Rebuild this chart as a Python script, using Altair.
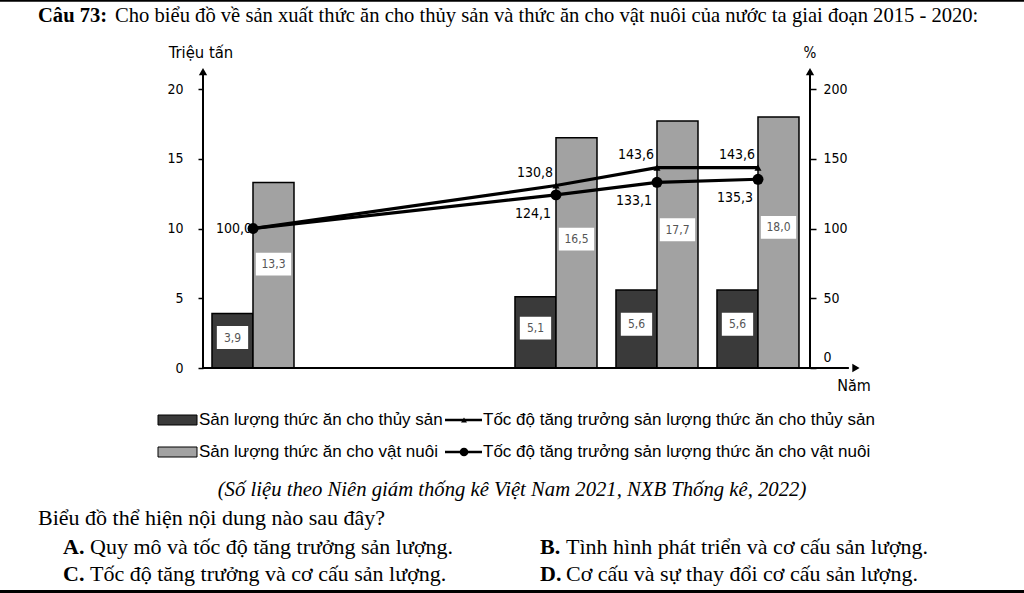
import altair as alt
import pandas as pd

# ---------------- data ----------------
years = [2015, 2018, 2019, 2020]
thuy_san = [3.9, 5.1, 5.6, 5.6]            # triệu tấn
vat_nuoi = [13.3, 16.5, 17.7, 18.0]        # triệu tấn
tang_thuy_san = [100.0, 130.8, 143.6, 143.6]  # %
tang_vat_nuoi = [100.0, 124.1, 133.1, 135.3]  # %
left_ticks = [0, 5, 10, 15, 20]
right_ticks = [0, 50, 100, 150, 200]

title_bold = "Câu 73:"
title_rest = ("Cho biểu đồ về sản xuất thức ăn cho thủy sản và thức ăn cho vật nuôi "
              "của nước ta giai đoạn 2015 - 2020:")
y_left_title = "Triệu tấn"
y_right_title = "%"
x_title = "Năm"
legend_labels = ["Sản lượng thức ăn cho thủy sản",
                 "Sản lượng thức ăn cho vật nuôi",
                 "Tốc độ tăng trưởng sản lượng thức ăn cho thủy sản",
                 "Tốc độ tăng trưởng sản lượng thức ăn cho vật nuôi"]
source_text = "(Số liệu theo Niên giám thống kê Việt Nam 2021, NXB Thống kê, 2022)"
question = "Biểu đồ thể hiện nội dung nào sau đây?"
option_keys = ["A.", "B.", "C.", "D."]
option_texts = ["Quy mô và tốc độ tăng trưởng sản lượng.",
                "Tình hình phát triển và cơ cấu sản lượng.",
                "Tốc độ tăng trưởng và cơ cấu sản lượng.",
                "Cơ cấu và sự thay đổi cơ cấu sản lượng."]

# ---------------- layout ----------------
W, H = 607, 279
PL, PT = 203, 89
X_DOM = [2014.505, 2020.515]
Y_DOM = [0, 20]
P_DOM = [0, 200]
C_TS = "#3a3a3a"
C_VN = "#a2a2a2"
SANS = "DejaVu Sans Condensed, Liberation Sans"
SERIF = "Liberation Serif"
LEG = "Liberation Sans"

xs = alt.Scale(domain=X_DOM, nice=False, zero=False)
ys = alt.Scale(domain=Y_DOM, nice=False, zero=False)
ps = alt.Scale(domain=P_DOM, nice=False, zero=False)


def rx(v):
    return v - PL


def ry(v):
    return v - PT


bars_df = pd.DataFrame({
    "year": years * 2,
    "series": ["ts"] * len(years) + ["vn"] * len(years),
    "value": thuy_san + vat_nuoi,
})
ts_df = pd.DataFrame({"year": years, "pct": tang_thuy_san})
vn_df = pd.DataFrame({"year": years, "pct": tang_vat_nuoi})

bars = alt.Chart(bars_df).transform_calculate(
    x0="datum.series == 'ts' ? datum.year - 0.406 : datum.year",
    x1="datum.series == 'ts' ? datum.year : datum.year + 0.406",
    zero="0",
).mark_rect(stroke="black", strokeWidth=1.5).encode(
    x=alt.X("x0:Q", scale=xs, axis=alt.Axis(
        values=years, format="d", ticks=False, grid=False, title=None, domain=False,
        labelFontSize=16, labelFont=SANS, labelColor="black", labelPadding=9)),
    x2="x1:Q",
    y=alt.Y("value:Q", scale=ys, axis=alt.Axis(
        values=left_ticks, grid=False, title=None, tickSize=5, tickWidth=1.5,
        tickColor="black", domain=False,
        labelFontSize=14, labelFont=SANS, labelColor="black", labelPadding=15)),
    y2="zero:Q",
    color=alt.Color("series:N", scale=alt.Scale(domain=["ts", "vn"], range=[C_TS, C_VN]),
                    legend=None),
)

boxes = alt.Chart(bars_df).transform_calculate(
    cx="datum.series == 'ts' ? datum.year - 0.203 : datum.year + 0.203",
    hw="datum.series == 'ts' ? 0.155 : 0.175",
    bx0="datum.cx - datum.hw",
    bx1="datum.cx + datum.hw",
    mid="datum.value * 0.56",
    by0="datum.mid - 0.82",
    by1="datum.mid + 0.82",
).mark_rect(color="white").encode(
    x=alt.X("bx0:Q", scale=xs, axis=None), x2="bx1:Q",
    y=alt.Y("by0:Q", scale=ys, axis=None), y2="by1:Q",
)

box_text = alt.Chart(bars_df).transform_calculate(
    cx="datum.series == 'ts' ? datum.year - 0.203 : datum.year + 0.203",
    mid="datum.value * 0.56",
    lab="replace(format(datum.value, '.1f'), '.', ',')",
).mark_text(font=SANS, fontSize=12, color="#555555", baseline="middle").encode(
    x=alt.X("cx:Q", scale=xs, axis=None),
    y=alt.Y("mid:Q", scale=ys, axis=None),
    text="lab:N",
)

line_ts = alt.Chart(ts_df).mark_line(color="black", strokeWidth=3.2).encode(
    x=alt.X("year:Q", scale=xs, axis=None),
    y=alt.Y("pct:Q", scale=ps, axis=alt.Axis(
        orient="right", values=right_ticks, grid=False, title=None, tickSize=6,
        tickWidth=1.5, tickColor="black", domain=False,
        labelFontSize=14, labelFont=SANS, labelColor="black", labelPadding=7,
        labelOffset={"condition": {"test": "datum.value === 0", "value": -11}, "value": 0})),
)
line_vn = alt.Chart(vn_df).mark_line(color="black", strokeWidth=3.2).encode(
    x=alt.X("year:Q", scale=xs, axis=None),
    y=alt.Y("pct:Q", scale=ps, axis=None),
)

fmt = "replace(format(datum.pct, '.1f'), '.', ',')"

lab_first = alt.Chart(vn_df).transform_filter("datum.year == 2015").transform_calculate(
    lab=fmt).mark_text(font=SANS, fontSize=14, color="black", align="right",
                       baseline="middle", dx=-1).encode(
    x=alt.X("year:Q", scale=xs, axis=None), y=alt.Y("pct:Q", scale=ps, axis=None), text="lab:N")

lab_ts = alt.Chart(ts_df).transform_filter("datum.year > 2015").transform_calculate(
    lab=fmt).mark_text(font=SANS, fontSize=14, color="black", align="right",
                       baseline="middle", dx=-3, dy=-13).encode(
    x=alt.X("year:Q", scale=xs, axis=None), y=alt.Y("pct:Q", scale=ps, axis=None), text="lab:N")

lab_vn = alt.Chart(vn_df).transform_filter("datum.year > 2015").transform_calculate(
    lab=fmt).mark_text(font=SANS, fontSize=14, color="black", align="right",
                       baseline="middle", dx=-5, dy=19).encode(
    x=alt.X("year:Q", scale=xs, axis=None), y=alt.Y("pct:Q", scale=ps, axis=None), text="lab:N")

pts_ts = alt.Chart(ts_df).mark_point(shape="triangle-up", filled=True, size=50,
                                     color="black", opacity=1).encode(
    x=alt.X("year:Q", scale=xs, axis=None), y=alt.Y("pct:Q", scale=ps, axis=None))
pts_vn = alt.Chart(vn_df).mark_circle(size=120, color="black", opacity=1).encode(
    x=alt.X("year:Q", scale=xs, axis=None), y=alt.Y("pct:Q", scale=ps, axis=None))

# axis lines with arrows (drawn through the scales, extending past the plot area)
varrow_df = pd.DataFrame({"x": X_DOM, "y0": [Y_DOM[0]] * 2, "y1": [21.1, 21.1],
                          "ya": [21.25, 21.25]})
varrow_rule = alt.Chart(varrow_df).mark_rule(color="black", strokeWidth=2).encode(
    x=alt.X("x:Q", scale=xs, axis=None), y=alt.Y("y0:Q", scale=ys, axis=None), y2="y1:Q")
varrow_head = alt.Chart(varrow_df).mark_point(shape="triangle-up", filled=True, size=70,
                                              color="black", opacity=1).encode(
    x=alt.X("x:Q", scale=xs, axis=None), y=alt.Y("ya:Q", scale=ys, axis=None))
harrow_df = pd.DataFrame({"x0": [X_DOM[0]], "x1": [2020.9], "xa": [2020.97], "y": [0]})
harrow_rule = alt.Chart(harrow_df).mark_rule(color="black", strokeWidth=2).encode(
    x=alt.X("x0:Q", scale=xs, axis=None), x2="x1:Q", y=alt.Y("y:Q", scale=ys, axis=None))
harrow_head = alt.Chart(harrow_df).mark_point(shape="triangle-right", filled=True, size=70,
                                              color="black", opacity=1).encode(
    x=alt.X("xa:Q", scale=xs, axis=None), y=alt.Y("y:Q", scale=ys, axis=None))


def txt(s, x, y, **kw):
    return alt.Chart(pd.DataFrame({"t": [s]})).mark_text(**kw).encode(
        x=alt.value(rx(x)), y=alt.value(ry(y)), text="t:N")


def box(x0, x1, y0, y1, **kw):
    return alt.Chart(pd.DataFrame({"a": [0]})).mark_rect(**kw).encode(
        x=alt.value(rx(x0)), x2=alt.value(rx(x1)), y=alt.value(ry(y0)), y2=alt.value(ry(y1)))


def hline(x0, x1, y, w, **kw):
    return alt.Chart(pd.DataFrame({"a": [0]})).mark_rule(color="black", strokeWidth=w, **kw).encode(
        x=alt.value(rx(x0)), x2=alt.value(rx(x1)), y=alt.value(ry(y)))


def marker(x, y, shape, size):
    return alt.Chart(pd.DataFrame({"a": [0]})).mark_point(
        shape=shape, filled=True, size=size, color="black", opacity=1).encode(
        x=alt.value(rx(x)), y=alt.value(ry(y)))


Q = 22  # font size of the question text
deco = [
    hline(0, 1024, 0.8, 2),
    hline(0, 1024, 591.5, 3),
    txt(title_bold, 38, 16, font=SERIF, fontSize=20.6, fontWeight="bold", align="left",
        baseline="middle", color="black"),
    txt(title_rest, 115, 16, font=SERIF, fontSize=20.6, align="left", baseline="middle",
        color="black"),
    txt(y_left_title, 201, 53, font=SANS, fontSize=16.5, align="center", baseline="middle",
        color="black"),
    txt(y_right_title, 810, 53, font=SANS, fontSize=15, align="center", baseline="middle",
        color="black"),
    txt(x_title, 854, 386, font=SANS, fontSize=16, align="center", baseline="middle",
        color="black"),
    # legend
    box(158, 197, 415, 425, fill=C_TS, stroke="black", strokeWidth=1),
    txt(legend_labels[0], 199, 420, font=LEG, fontSize=17, align="left", baseline="middle",
        color="black"),
    box(158, 197, 447, 457, fill=C_VN, stroke="black", strokeWidth=1),
    txt(legend_labels[1], 199, 452, font=LEG, fontSize=17, align="left", baseline="middle",
        color="black"),
    hline(445, 482, 420, 2.5),
    marker(464, 420, "triangle-up", 35),
    txt(legend_labels[2], 483, 420, font=LEG, fontSize=17, align="left", baseline="middle",
        color="black"),
    hline(445, 482, 452, 2.5),
    marker(464, 452, "circle", 75),
    txt(legend_labels[3], 483, 452, font=LEG, fontSize=17, align="left", baseline="middle",
        color="black"),
    # text below the chart
    txt(source_text, 512, 490, font=SERIF, fontSize=20.7, fontStyle="italic", align="center",
        baseline="middle", color="black"),
    txt(question, 38, 518, font=SERIF, fontSize=Q, align="left", baseline="middle",
        color="black"),
    txt(option_keys[0], 63, 547, font=SERIF, fontSize=Q, fontWeight="bold", align="left",
        baseline="middle", color="black"),
    txt(option_texts[0], 90, 547, font=SERIF, fontSize=Q, align="left", baseline="middle",
        color="black"),
    txt(option_keys[1], 540, 547, font=SERIF, fontSize=Q, fontWeight="bold", align="left",
        baseline="middle", color="black"),
    txt(option_texts[1], 566, 547, font=SERIF, fontSize=Q, align="left", baseline="middle",
        color="black"),
    txt(option_keys[2], 63, 574, font=SERIF, fontSize=Q, fontWeight="bold", align="left",
        baseline="middle", color="black"),
    txt(option_texts[2], 90, 574, font=SERIF, fontSize=Q, align="left", baseline="middle",
        color="black"),
    txt(option_keys[3], 540, 574, font=SERIF, fontSize=Q, fontWeight="bold", align="left",
        baseline="middle", color="black"),
    txt(option_texts[3], 566, 574, font=SERIF, fontSize=Q, align="left", baseline="middle",
        color="black"),
]

chart = alt.layer(
    bars, boxes, box_text, line_ts, line_vn, lab_first, lab_ts, lab_vn, pts_ts, pts_vn,
    varrow_rule, varrow_head, harrow_rule, harrow_head, *deco
).resolve_scale(y="independent").properties(
    width=W, height=H,
    padding={"left": PL, "top": PT, "right": 1024 - PL - W, "bottom": 593 - PT - H},
    autosize="none", background="white",
).configure_view(stroke=None)

chart.save("out.html", embed_options={"renderer": "svg", "actions": False})
